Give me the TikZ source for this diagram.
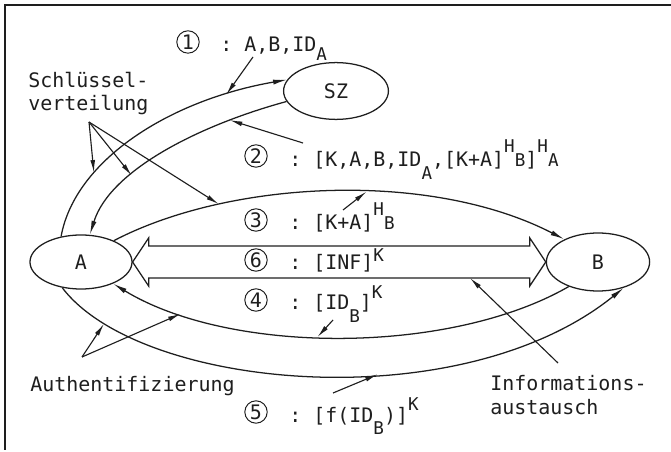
\documentclass[tikz,border=0pt]{standalone}
\usepackage{fontspec}
\setmonofont{DejaVu Sans Mono}
\usepackage{tikz}
\usetikzlibrary{shapes.geometric, arrows.meta, calc}
\definecolor{ink}{HTML}{1E1E1E}
\newcommand\smallfont{\fontsize{12.5}{13}\selectfont}
\newcommand\lo[2][9pt]{\raisebox{-#1}{\smallfont #2}}
\newcommand\hi[2][8pt]{\raisebox{#1}{\smallfont #2}}
\tikzset{
  flow/.style={-{Latex[length=10pt,width=3.6pt]}, line width=0.9pt, ink},
  pointer/.style={-{Latex[length=9pt,width=3.4pt]}, line width=0.8pt, ink},
  station/.style={ellipse, draw=ink, line width=0.9pt, inner sep=0pt, text=ink},
  msg/.style={anchor=base west, inner sep=0pt, text=ink},
  numcirc/.style={circle, draw=ink, line width=0.7pt, inner sep=0pt, minimum size=0.56cm, text=ink},
}

\begin{document}
\begin{tikzpicture}[x=0.025cm, y=-0.025cm, font=\ttfamily\fontsize{14.2}{17}\selectfont]
  \useasboundingbox (0,0) rectangle (671,452);
  \draw[ink, line width=0.9pt] (671,5) -- (5,5) -- (5,450);

  % Stations
  \node[station, minimum width=2.55cm, minimum height=1.35cm] (A) at (81,262) {A};
  \node[station, minimum width=2.58cm, minimum height=1.45cm] (B) at (598,262) {B};
  \node[station, minimum width=2.62cm, minimum height=1.42cm] (SZ) at (336,91) {SZ};

  % Information exchange (double arrow)
  \draw[ink, line width=0.9pt] (A.east) -- ++(16,-24) -- ++(0,8) -- ($(B.west)+(-16,-16)$) -- ++(0,-8)
    -- (B.west) -- ++(-16,24) -- ++(0,-8) -- ($(A.east)+(16,16)$) -- ++(0,8) -- cycle;

  % Messages
  \draw[flow] (A.128) .. controls (75,160) and (170,100) .. (SZ.167)
    coordinate[pos=0.3] (k1) coordinate[pos=0.82] (m1);
  \draw[flow] (SZ.192) .. controls (200,125) and (110,170) .. (A.72)
    coordinate[pos=0.22] (m2) coordinate[pos=0.66] (k2);
  \draw[flow] (A.33) .. controls (230,180) and (430,170) .. (B.146)
    coordinate[pos=0.26] (k3) coordinate[pos=0.57] (m3);
  \draw[flow] (B.220) .. controls (450,355) and (230,355) .. (A.326)
    coordinate[pos=0.545] (m4) coordinate[pos=0.83] (u4);
  \draw[flow] (A.234) .. controls (140,390) and (460,420) .. (B.315)
    coordinate[pos=0.13] (u5) coordinate[pos=0.6] (m5);
  \coordinate (ix) at (470,278);

  % Message numbers
  \node[numcirc] (n1) at (188,42) {1};
  \node[numcirc] (n2) at (256,156) {2};
  \node[numcirc] (n3) at (256,220) {3};
  \node[numcirc] (n6) at (256,260) {6};
  \node[numcirc] (n4) at (256,300) {4};
  \node[numcirc] (n5) at (256,412) {5};

  % Message texts
  \node[msg] (t1) at (220,52) {: A,B,ID\lo[6pt]{A}};
  \node[msg] (t2) at (289,167) {: [K,A,B,ID\lo{A},[K+A]\hi[10pt]{H\lo[10pt]{B}}]\hi[10pt]{H\lo[10pt]{A}}};
  \node[msg] (t3) at (289,230) {: [K+A]\hi[10pt]{H\lo[10pt]{B}}};
  \node[msg] (t6) at (289,270) {: [INF]\hi[6pt]{K}};
  \node[msg] (t4) at (289,310) {: [ID\lo{B}]\hi{K}};
  \node[msg] (t5) at (289,422) {: [f(ID\lo{B})]\hi{K}};

  % Side labels
  \node[msg, align=left] (keys) at (28,111) {Schlüssel-\\verteilung};
  \node[msg] (auth) at (30,391) {Authentifizierung};
  \node[msg, align=left] (info) at (490,414) {Informations-\\austausch};

  % Pointers
  \coordinate (q1) at (253,57);
  \coordinate (q2) at (303,143);
  \coordinate (q3) at (343,210);
  \coordinate (q4) at (333,320);
  \coordinate (q5) at (333,393);
  \coordinate (qk) at (89,122);
  \coordinate (qa) at (82,357);
  \coordinate (qi) at (558,363);
  \draw[pointer] (q1) -- (m1);
  \draw[pointer] (q2) -- (m2);
  \draw[pointer] (q3) -- (m3);
  \draw[pointer] (q4) -- (m4);
  \draw[pointer] (q5) -- (m5);
  \draw[pointer] (qk) -- (k1);
  \draw[pointer] (qk) -- (k2);
  \draw[pointer] (qk) -- (k3);
  \draw[pointer] (qa) -- (u5);
  \draw[pointer] (qa) -- (u4);
  \draw[pointer] (qi) -- (ix);
\end{tikzpicture}
\end{document}
